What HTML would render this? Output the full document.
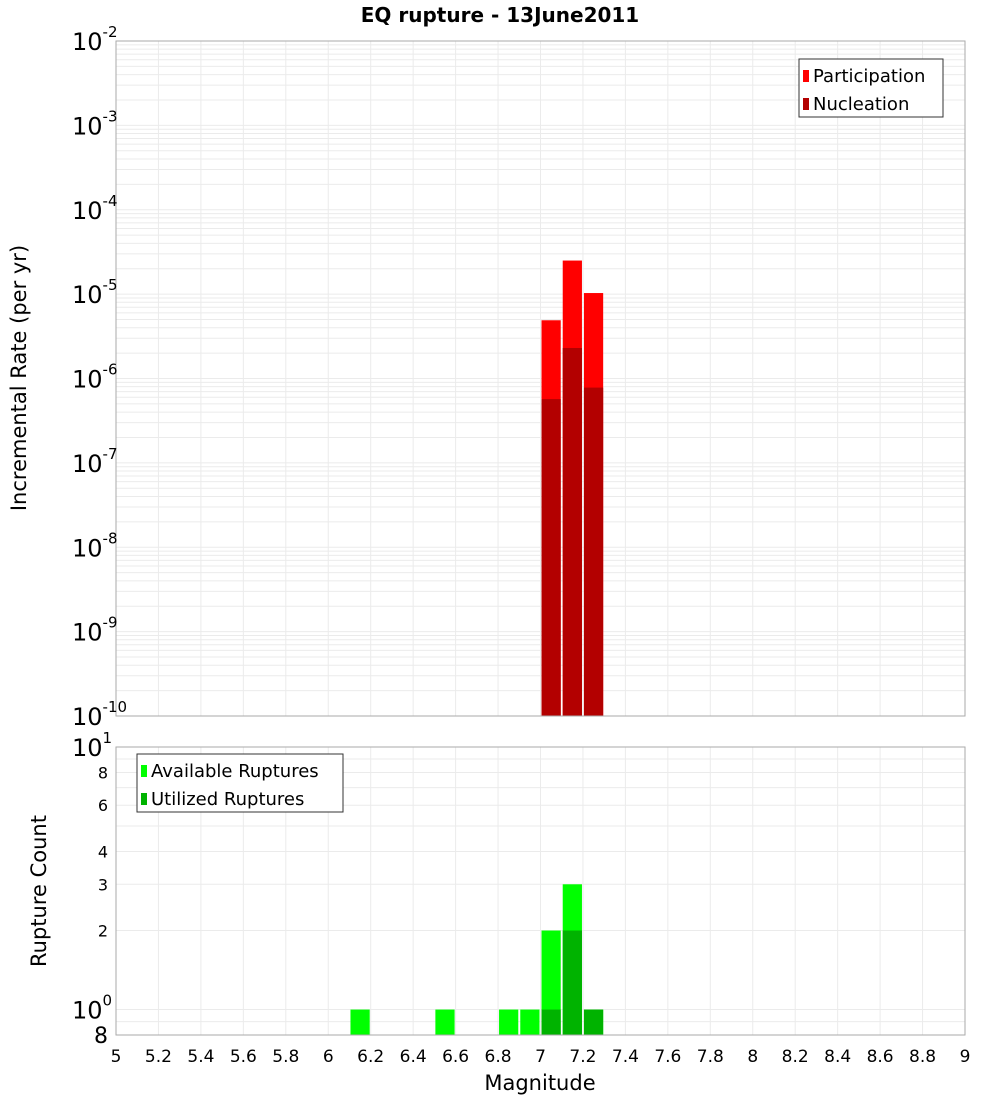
<!DOCTYPE html>
<html><head><meta charset="utf-8"><style>
body{margin:0;background:#fff;}
svg{display:block;font-family:"DejaVu Sans","Liberation Sans",sans-serif;}
</style></head><body>
<svg id="chart" width="1000" height="1100" viewBox="0 0 1000 1100" xmlns="http://www.w3.org/2000/svg">
<text x="500" y="22" text-anchor="middle" font-size="20" font-weight="bold">EQ rupture - 13June2011</text>
<g id="topPanel"></g><g id="botPanel"></g>
<text x="540" y="1090" text-anchor="middle" font-size="21">Magnitude</text>
<text transform="translate(26,378) rotate(-90)" text-anchor="middle" font-size="21">Incremental Rate (per yr)</text>
<text transform="translate(46,891) rotate(-90)" text-anchor="middle" font-size="21">Rupture Count</text>
</svg>
<script>
const magBins=[6.15,6.55,6.85,6.95,7.05,7.15,7.25];
const participation=[0,0,0,0,4.9e-6,2.5e-5,1.03e-5];
const nucleation=[0,0,0,0,5.7e-7,2.3e-6,7.8e-7];
const available=[1,1,1,1,2,3,1];
const utilized=[0,0,0,0,1,2,1];
const xTicks=["5","5.2","5.4","5.6","5.8","6","6.2","6.4","6.6","6.8","7","7.2","7.4","7.6","7.8","8","8.2","8.4","8.6","8.8","9"];
const topExps=[-2,-3,-4,-5,-6,-7,-8,-9,-10];
const botTicks=[2,3,4,6,8];

const NS="http://www.w3.org/2000/svg";
const L=116,R=965;
const T1=41,B1=716,T2=747,B2=1035;
const xs=m=>L+(m-5)/4*(R-L);
const yTop=v=>T1+(-2-Math.log10(v))/8*(B1-T1);
const yBot=v=>T2+(1-Math.log10(v))/(1-Math.log10(0.8))*(B2-T2);
function mk(p,tag,at,txt){const e=document.createElementNS(NS,tag);for(const k in at)e.setAttribute(k,at[k]);if(txt!==undefined)e.textContent=txt;p.appendChild(e);return e;}
const gTop=document.getElementById('topPanel'),gBot=document.getElementById('botPanel');

for(const [g,T,B] of [[gTop,T1,B1],[gBot,T2,B2]]){
  const bg=mk(g,'rect',{x:L,y:T,width:R-L,height:B-T,fill:'#fff'});
  
  
  xTicks.forEach(t=>{const l=mk(g,'line',{x1:xs(+t),x2:xs(+t),y1:T,y2:B,stroke:'#ebebeb'});
    
    });
}
for(let e=-10;e<-2;e++)for(let k=1;k<10;k++){const v=k*Math.pow(10,e);const yy=yTop(v);
  const l=mk(gTop,'line',{x1:L,x2:R,y1:yy,y2:yy,stroke:'#ebebeb'});
  
  }
for(const v of [0.9,1,2,3,4,5,6,7,8,9,10]){const yy=yBot(v);
  const l=mk(gBot,'line',{x1:L,x2:R,y1:yy,y2:yy,stroke:'#ebebeb'});
  
  }

magBins.forEach((m,i)=>{
  if(participation[i]>0){const r=mk(gTop,'rect',{x:xs(m-0.05)+1,y:yTop(participation[i]),width:xs(m+0.05)-xs(m-0.05)-2,height:B1-yTop(participation[i]),fill:'#ff0000'});
    
    }
  if(nucleation[i]>0){const r=mk(gTop,'rect',{x:xs(m-0.05)+1,y:yTop(nucleation[i]),width:xs(m+0.05)-xs(m-0.05)-2,height:B1-yTop(nucleation[i]),fill:'#b30000'});
    
    }
});
magBins.forEach((m,i)=>{
  if(available[i]>0){const r=mk(gBot,'rect',{x:xs(m-0.05)+1,y:yBot(available[i]),width:xs(m+0.05)-xs(m-0.05)-2,height:B2-yBot(available[i]),fill:'#00ff00'});
    
    }
  if(utilized[i]>0){const r=mk(gBot,'rect',{x:xs(m-0.05)+1,y:yBot(utilized[i]),width:xs(m+0.05)-xs(m-0.05)-2,height:B2-yBot(utilized[i]),fill:'#00b300'});
    
    }
});
for(const [g,T,B] of [[gTop,T1,B1],[gBot,T2,B2]]){
  const b=mk(g,'rect',{x:L,y:T,width:R-L,height:B-T,fill:'none',stroke:'#aaa'});
  
  
}
topExps.forEach(e=>{const yy=yTop(Math.pow(10,e));
  const t=mk(gTop,'text',{x:72,y:yy+9,'font-size':24});
  
  
  t.textContent='10';
  mk(t,'tspan',{dy:-13,'font-size':15},String(e));
});
[[10,'1'],[1,'0']].forEach(([v,e])=>{const yy=yBot(v);
  const t=mk(gBot,'text',{x:72,y:yy+9,'font-size':24});
  
  
  t.textContent='10';
  mk(t,'tspan',{dy:-13,'font-size':15},e);
});
botTicks.forEach(v=>{const t=mk(gBot,'text',{x:108,y:yBot(v)+6,'text-anchor':'end','font-size':16},String(v));
  
  });
{const t=mk(gBot,'text',{x:108,y:B2+8,'text-anchor':'end','font-size':22},'8');
  
  }
xTicks.forEach(s=>{const t=mk(gBot,'text',{x:xs(+s),y:1062,'text-anchor':'middle','font-size':17},s);
  
  });
function legend(g,X,Y,W,items,name){
  const lg=mk(g,'g',{});
  
  
  mk(lg,'rect',{x:X,y:Y,width:W,height:58,fill:'#fff',stroke:'#333'});
  items.forEach(([c,l],i)=>{mk(lg,'rect',{x:X+4,y:Y+11+i*28,width:6,height:12,fill:c});
    mk(lg,'text',{x:X+14,y:Y+23+i*28,'font-size':18},l);});
}
legend(gTop,799,59,144,[['#ff0000','Participation'],['#b30000','Nucleation']],'top-legend');
legend(gBot,137,754,206,[['#00ff00','Available Ruptures'],['#00b300','Utilized Ruptures']],'bottom-legend');
</script>
</body></html>
